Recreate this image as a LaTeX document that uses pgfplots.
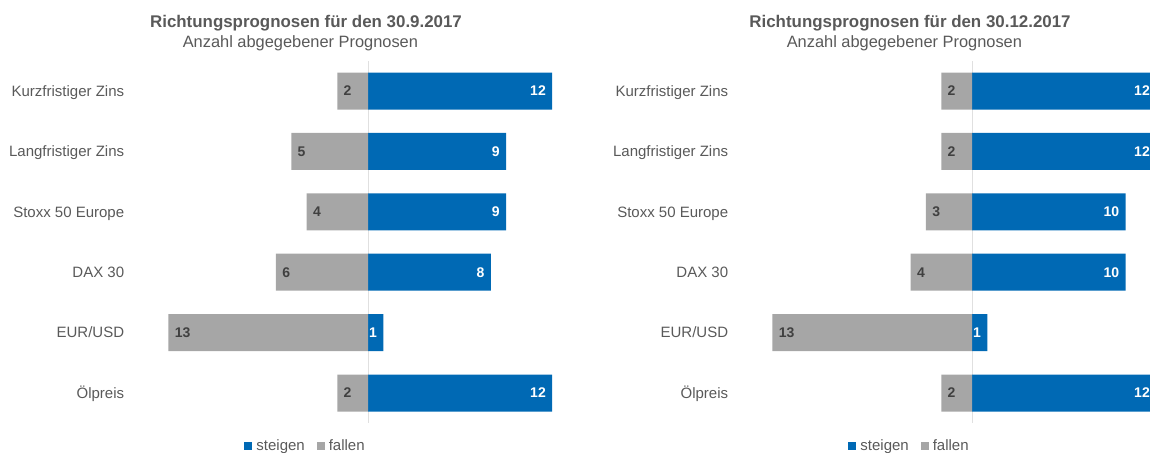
\documentclass[border=0pt]{standalone}
\usepackage{pgfplots}
\pgfplotsset{compat=1.18}
\usepackage{fontspec}
\setmainfont{Liberation Sans}
\definecolor{steigen}{HTML}{0069B4}
\definecolor{fallen}{HTML}{A6A6A6}
\definecolor{txt}{HTML}{595959}
\definecolor{lbl}{HTML}{404040}
\pgfplotsset{
  prog/.style={
    xbar, bar width=18.5pt, bar shift=0pt,
    scale only axis, width=214.9pt, height=181.2pt,
    xmin=-14, xmax=14, ymin=-0.5, ymax=5.5, y dir=reverse,
    enlargelimits=false,
    axis line style={draw=none},
    xtick=\empty,
    ytick={0,...,5},
    yticklabels={Kurzfristiger Zins,Langfristiger Zins,Stoxx 50 Europe,DAX 30,EUR/USD,Ölpreis},
    ytick style={draw=none},
    yticklabel style={anchor=mid east, inner sep=0pt, xshift=-10pt,
      font=\fontsize{7.5}{9}\selectfont, text=txt},
    extra x ticks={0}, extra x tick labels={},
    extra x tick style={grid=major, major grid style={draw=black!12, line width=0.5pt},
      major tick length=0pt},
    point meta=explicit symbolic,
    nodes near coords={\pgfplotspointmeta},
    legend style={at={(0.357,-0.064)}, anchor=center, draw=none, fill=none,
      legend columns=2, font=\fontsize{7.5}{9}\selectfont, text=txt,
      inner sep=0pt, nodes={inner xsep=2pt, inner ysep=0pt},
      /tikz/every even column/.append style={column sep=4pt}},
    legend image code/.code={\fill[##1] (0pt,-2pt) rectangle (4pt,2pt);},
  },
  up/.style={fill=steigen, draw=none,
    nodes near coords style={anchor=east, xshift=-3pt, inner sep=0pt,
      font=\fontsize{7}{8}\selectfont\bfseries, text=white}},
  down/.style={fill=fallen, draw=none,
    nodes near coords style={anchor=west, xshift=3pt, inner sep=0pt,
      font=\fontsize{7}{8}\selectfont\bfseries, text=lbl}},
}
\begin{document}
\begin{tikzpicture}
\useasboundingbox (0,0) rectangle (575pt,226pt);

% 30.9.2017
\node[anchor=base, font=\fontsize{8.45}{10}\selectfont\bfseries, text=txt]
  at (153pt,212.5pt) {Richtungsprognosen für den 30.9.2017};
\node[anchor=base, font=\fontsize{8.2}{10}\selectfont, text=txt]
  at (150.2pt,202.5pt) {Anzahl abgegebener Prognosen};
\begin{axis}[prog, at={(76.55pt,14.4pt)}, anchor=south west]
\addplot[up] coordinates {(12,0) [12] (9,1) [9] (9,2) [9] (8,3) [8] (1,4) [1] (12,5) [12]};
\addplot[down] coordinates {(-2,0) [2] (-5,1) [5] (-4,2) [4] (-6,3) [6] (-13,4) [13] (-2,5) [2]};
\legend{steigen,fallen}
\end{axis}

% 30.12.2017
\node[anchor=base, font=\fontsize{8.45}{10}\selectfont\bfseries, text=txt]
  at (455pt,212.5pt) {Richtungsprognosen für den 30.12.2017};
\node[anchor=base, font=\fontsize{8.2}{10}\selectfont, text=txt]
  at (452.2pt,202.5pt) {Anzahl abgegebener Prognosen};
\begin{axis}[prog, at={(378.55pt,14.4pt)}, anchor=south west]
\addplot[up] coordinates {(12,0) [12] (12,1) [12] (10,2) [10] (10,3) [10] (1,4) [1] (12,5) [12]};
\addplot[down] coordinates {(-2,0) [2] (-2,1) [2] (-3,2) [3] (-4,3) [4] (-13,4) [13] (-2,5) [2]};
\legend{steigen,fallen}
\end{axis}
\end{tikzpicture}
\end{document}
